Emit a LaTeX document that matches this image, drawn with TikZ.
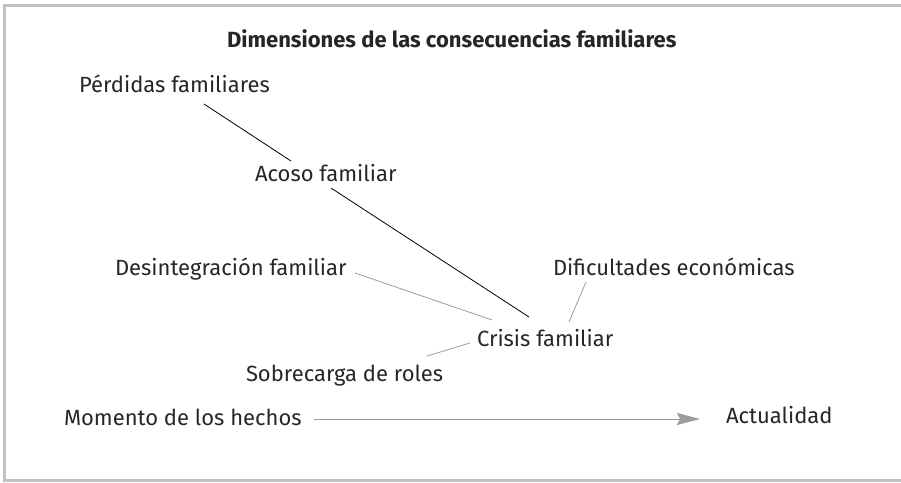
\documentclass[tikz,border=0pt]{standalone}
\usepackage{fontspec}
\setmainfont{Fira Sans}
\usetikzlibrary{calc,arrows.meta}
\definecolor{txt}{HTML}{262626}
\definecolor{lgray}{HTML}{9C9C9C}
\definecolor{frame}{HTML}{C2C2C2}
\begin{document}
\begin{tikzpicture}[x=1pt,y=-1pt,
  lbl/.style={inner sep=0pt,outer sep=0pt,anchor=base west,text=txt,font=\fontsize{22}{26}\selectfont},
  dark/.style={draw=black,line width=0.8pt},
  light/.style={draw=lgray,line width=0.8pt},
  timearrow/.style={draw=lgray,line width=0.8pt,-{Stealth[length=23pt,width=12pt,inset=3pt,fill=lgray]}}]
\useasboundingbox (0,0) rectangle (901,482);
\draw[frame,line width=2.4pt] (905,5.5) -- (4.5,5.5) -- (4.5,480.5) -- (905,480.5);
\node[lbl,font=\fontsize{22}{26}\selectfont\bfseries] (title) at (227,47) {Dimensiones de las consecuencias familiares};
\node[lbl] (pf) at (79,92) {Pérdidas familiares};
\node[lbl] (af) at (255,181.5) {Acoso familiar};
\node[lbl] (df) at (115,275) {Desintegración familiar};
\node[lbl] (de) at (553,275) {Dificultades económicas};
\node[lbl] (cf) at (477,346) {Crisis familiar};
\node[lbl] (sr) at (246,381) {Sobrecarga de roles};
\node[lbl] (mh) at (64,425.5) {Momento de los hechos};
\node[lbl] (ac) at (726,423) {Actualidad};
\draw[dark] ($(pf.base west)+(125,12)$) -- ($(af.base west)+(36,-20.5)$);
\draw[dark] ($(af.base west)+(76,6.5)$) -- ($(cf.base west)+(52,-29)$);
\draw[light] ($(df.base west)+(240,-2)$) -- ($(cf.base west)+(15,-26)$);
\draw[light] ($(de.base west)+(33,7)$) -- ($(cf.base west)+(92,-24)$);
\draw[light] ($(sr.base west)+(181,-25)$) -- ($(cf.base west)+(-7,-3)$);
\draw[timearrow] ($(mh.base west)+(250,-6.5)$) -- ($(ac.base west)+(-26,-4)$);
\end{tikzpicture}
\end{document}
